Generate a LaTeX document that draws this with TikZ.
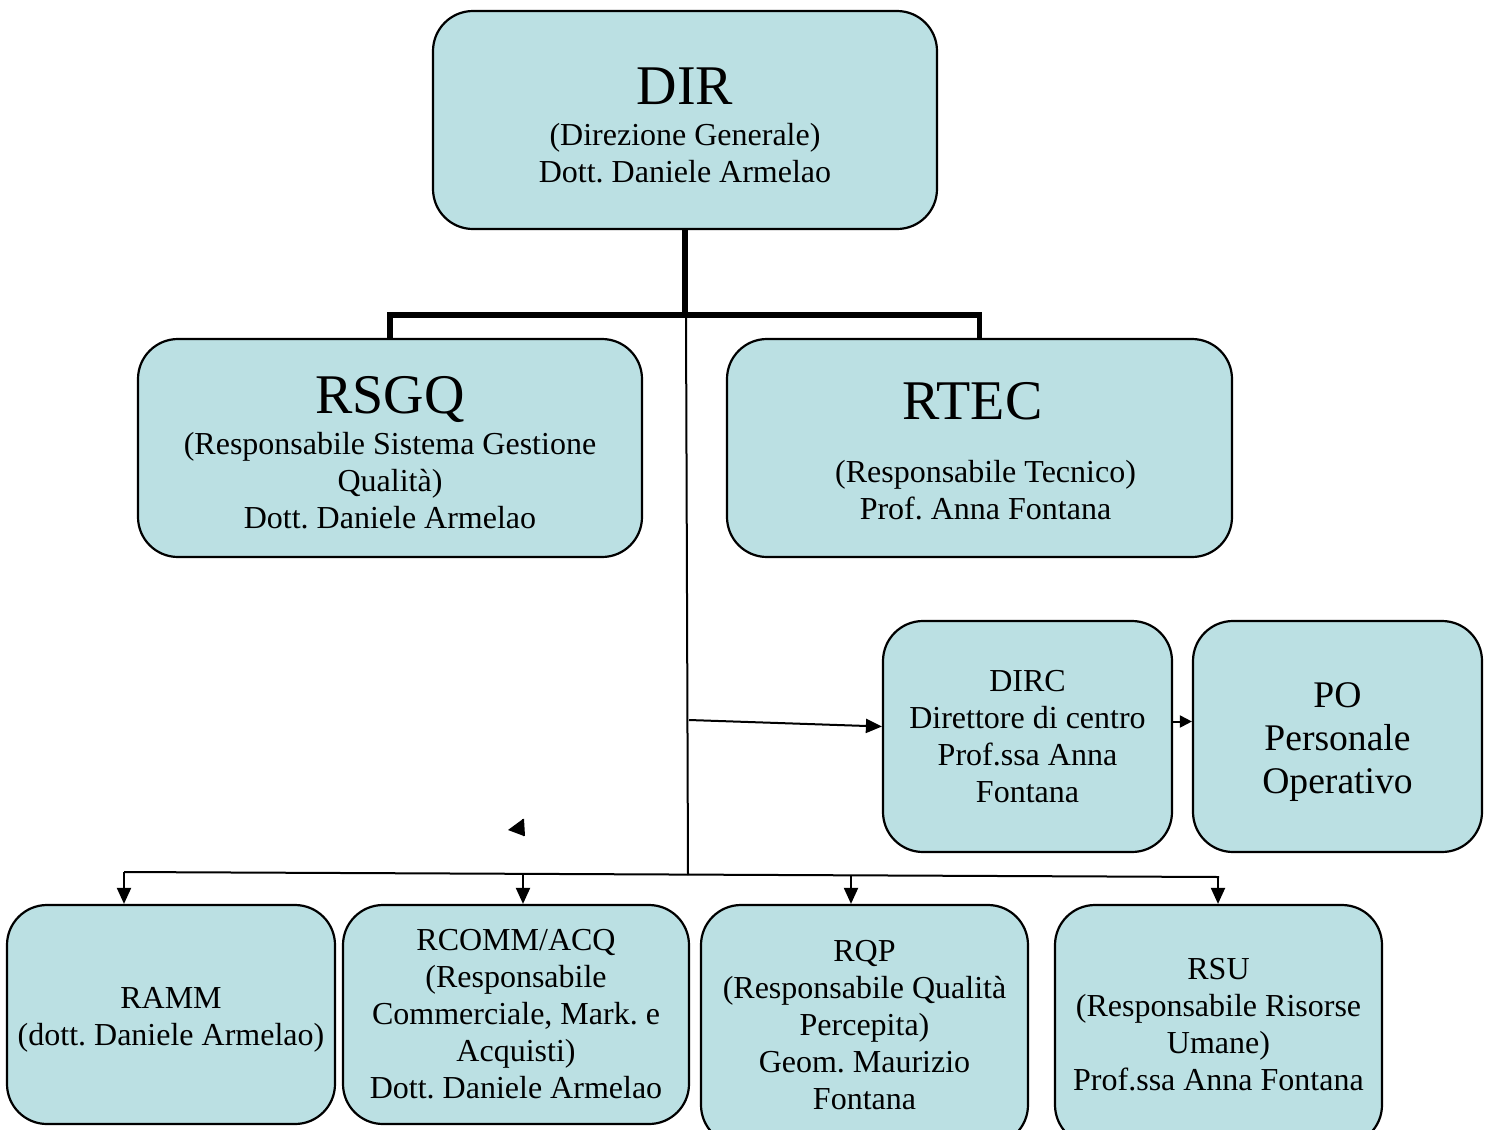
\documentclass[tikz,border=0pt]{standalone}
\usepackage{fontspec}
\setmainfont{Liberation Serif}
\usetikzlibrary{arrows.meta,calc}
\definecolor{boxfill}{RGB}{187,224,227}
\newcommand{\ttl}[2]{{\fontsize{28}{31}\selectfont\rule{0pt}{#1}#2}}
\tikzset{
  orgbox/.style={draw=black, line width=1.1pt, fill=boxfill, rounded corners=20pt,
    align=center, inner sep=0pt, font=\fontsize{16}{18.5}\selectfont\frenchspacing},
  thickbus/.style={line width=2.8pt},
  thinline/.style={line width=1pt},
  arr/.style={line width=1pt, -{Triangle[length=8pt,width=7pt]}},
  sarr/.style={line width=1pt, -{Triangle[length=6pt,width=6pt]}}
}
\begin{document}
\begin{tikzpicture}[x=0.5pt,y=-0.5pt]
\useasboundingbox (0,0) rectangle (1489,1130);
\clip (0,0) rectangle (1489,1130);
% boxes
\node[orgbox, minimum width=252pt, minimum height=109pt] (DIR) at (685,120)
  {\ttl{23.5pt}{DIR}\\[2pt](Direzione Generale)\\Dott. Daniele Armelao};
\node[orgbox, minimum width=252pt, minimum height=109pt] (RSGQ) at (390,448)
  {\ttl{23.5pt}{RSGQ}\\[2pt](Responsabile Sistema Gestione\\Qualità)\\Dott. Daniele Armelao};
\node[orgbox, minimum width=252.5pt, minimum height=109pt] (RTEC) at (979.5,448)
  {\ttl{21.5pt}{RTEC}\hspace*{7pt}\\[13pt]\hspace*{6pt}(Responsabile Tecnico)\\\hspace*{6pt}Prof. Anna Fontana};
\node[orgbox, minimum width=144.5pt, minimum height=115.5pt] (DIRC) at (1027.5,736.5)
  {DIRC\\Direttore di centro\\Prof.ssa Anna\\Fontana};
\node[orgbox, minimum width=144.5pt, minimum height=115.5pt,
  font=\fontsize{18.8}{21.5}\selectfont] (PO) at (1337.5,736.5)
  {\rule{0pt}{18.4pt}PO\\Personale\\Operativo};
\node[orgbox, minimum width=164pt, minimum height=109.5pt] (RAMM) at (171,1014.5)
  {\rule{0pt}{15.6pt}RAMM\\(dott. Daniele Armelao)};
\node[orgbox, minimum width=173pt, minimum height=109.5pt] (RCOMM) at (516,1014.5)
  {RCOMM/ACQ\\(Responsabile\\Commerciale, Mark. e\\Acquisti)\\Dott. Daniele Armelao};
\node[orgbox, minimum width=163.5pt, minimum height=120pt] (RQP) at (864.5,1025)
  {RQP\\(Responsabile Qualità\\Percepita)\\Geom. Maurizio\\Fontana};
\node[orgbox, minimum width=163.5pt, minimum height=120pt] (RSU) at (1218.5,1025)
  {RSU\\(Responsabile Risorse\\Umane)\\Prof.ssa Anna Fontana};
% thick top connectors
\coordinate (j) at (685,315);
\draw[thickbus] (DIR.south) -- (j);
\draw[thickbus] (RSGQ.north) -- (RSGQ.north |- j) -- (RTEC.north |- j) -- (RTEC.north);
% thin trunk
\coordinate (v1) at (686,316);
\coordinate (v2) at (688,875);
\draw[thinline] (v1) -- (v2);
\coordinate (a1) at (689,720);
\draw[arr] (a1) -- ($(DIRC.west)+(0,-10)$);
\draw[sarr] ($(DIRC.east)+(0,-15)$) -- ($(PO.west)+(0,-15)$);
% bottom bus
\coordinate (b1) at (124,872);
\coordinate (b2) at (1219,877);
\draw[thinline] (b1) -- (b2);
\coordinate (d1) at (124,872);
\coordinate (d2) at (523,874);
\coordinate (d3) at (851,875.5);
\coordinate (d4) at (1218,877);
\draw[arr] (d1) -- (RAMM.north -| d1);
\draw[arr] (d2) -- (RCOMM.north -| d2);
\draw[arr] (d3) -- (RQP.north -| d3);
\draw[arr] (d4) -- (RSU.north -| d4);
% stray arrowhead
\fill (508,830) -- (523,819) -- (524,836) -- cycle;
\draw[thinline] (523,819) -- (524,836);
\end{tikzpicture}
\end{document}
